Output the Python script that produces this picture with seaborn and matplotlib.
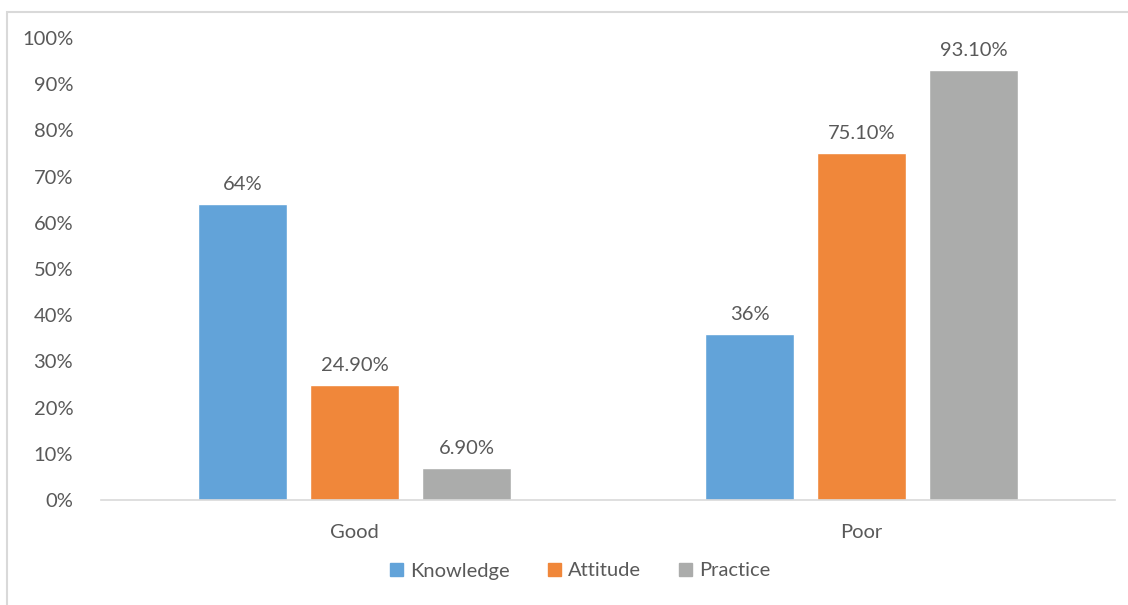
import pandas as pd
import matplotlib
matplotlib.use("Agg")
import matplotlib.pyplot as plt
import matplotlib.patches as mpatches
import seaborn as sns

# --- Data ---
levels = ["Good", "Poor"]
domains = ["Knowledge", "Attitude", "Practice"]
knowledge = [64.0, 36.0]
attitude = [24.9, 75.1]
practice = [6.9, 93.1]
knowledge_labels = ["64%", "36%"]
attitude_labels = ["24.90%", "75.10%"]
practice_labels = ["6.90%", "93.10%"]
yticks = [0, 10, 20, 30, 40, 50, 60, 70, 80, 90, 100]

colors = ["#62A3D9", "#F0873A", "#ABACAB"]
text_gray = "#595959"
fs = 14.5

df = pd.DataFrame({
    "level": levels * 3,
    "domain": [d for d in domains for _ in levels],
    "value": knowledge + attitude + practice,
})

sns.set_theme(style="white")
plt.rcParams["font.family"] = ["Lato", "DejaVu Sans"]

fig = plt.figure(figsize=(11.28, 6.05), dpi=100)
ax = fig.add_axes([101 / 1128, 105 / 605, 1014 / 1128, 462 / 605])

sns.barplot(data=df, x="level", y="value", hue="domain", hue_order=domains,
            palette=colors, width=0.663, gap=0.206, saturation=1,
            legend=False, ax=ax)

for cont, labs in zip(ax.containers, [knowledge_labels, attitude_labels, practice_labels]):
    ax.bar_label(cont, labels=labs, padding=8, fontsize=fs, color=text_gray)

ax.set_ylim(0, 100)
ax.set_xlim(-0.5, 1.5)
ax.set_yticks(yticks)
ax.set_yticklabels([f"{t}%" for t in yticks])
ax.set_xlabel("")
ax.set_ylabel("")
ax.tick_params(axis="y", length=0, pad=20, labelsize=fs, labelcolor=text_gray)
ax.tick_params(axis="x", length=0, pad=17, labelsize=fs, labelcolor=text_gray)
for side in ["top", "right", "left"]:
    ax.spines[side].set_visible(False)
ax.spines["bottom"].set_color("#D9D9D9")
ax.spines["bottom"].set_linewidth(1.2)

# --- Legend ---
handles = [mpatches.Patch(color=c, label=d) for c, d in zip(colors, domains)]
fig.legend(handles=handles, loc="center", bbox_to_anchor=(580 / 1128, 1 - 571 / 605),
           ncol=3, frameon=False, fontsize=fs, labelcolor=text_gray,
           handlelength=0.65, handleheight=0.65, handletextpad=0.35, columnspacing=1.9)

# --- Chart border ---
fig.patches.append(mpatches.Rectangle((7 / 1128, -0.05), 1.2, 1 - 12 / 605 + 0.05,
                                      transform=fig.transFigure, fill=False,
                                      edgecolor="#D9D9D9", linewidth=1.5))

fig.savefig("out.png", dpi=100)
